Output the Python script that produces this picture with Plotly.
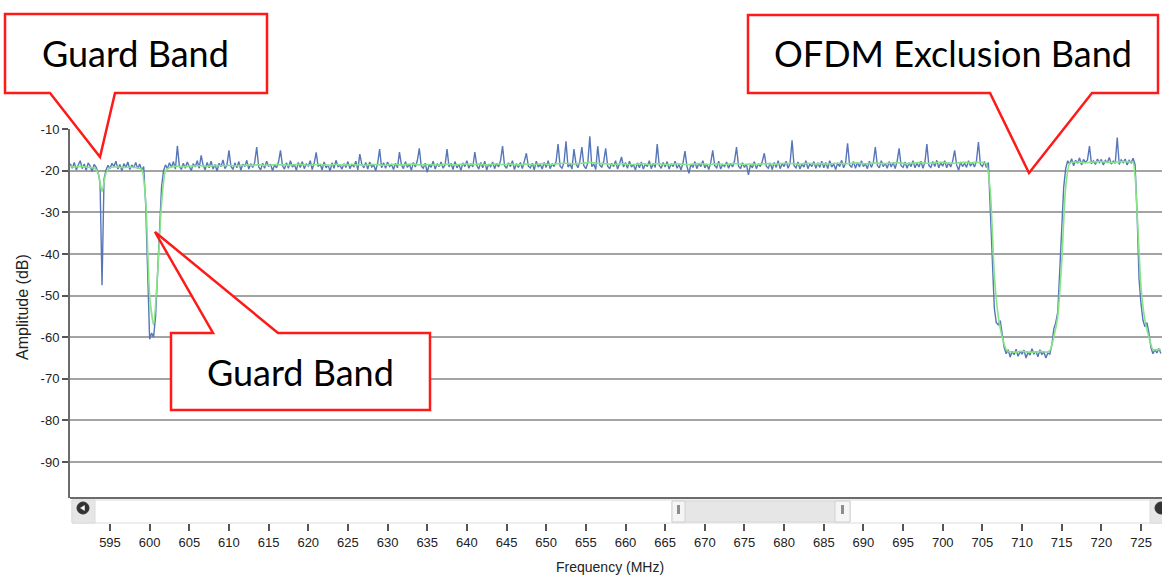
import plotly.graph_objects as go

W, H = 1162, 576

# ---------------- data ----------------
raw_start, raw_step = 590.0, 0.25
smooth_start, smooth_step = 590.0, 0.5

amplitude_raw = [
    -18.3, -19.4, -18.0, -19.8, -18.6, -17.6, -19.5, -18.4, -19.9, -18.1, -18.9, -20.2, -18.5, -19.1, -20.4, -23.0, -47.5, -22.0, -19.8, -18.7,  # 590
    -19.5, -18.2, -19.0, -17.7, -19.6, -18.5, -20.0, -18.3, -19.2, -17.9, -19.7, -18.6, -19.3, -18.0, -19.5, -18.4, -19.9, -19.0, -28.0, -48.0,  # 595
    -60.5, -59.0, -60.0, -55.0, -44.0, -33.0, -24.0, -20.0, -18.6, -19.5, -18.1, -19.2, -17.8, -19.6, -14.0, -18.9, -19.7, -18.2, -19.4, -17.9,  # 600
    -18.8, -20.0, -18.3, -19.1, -17.6, -19.4, -16.3, -18.7, -19.8, -18.0, -19.3, -17.7, -19.6, -18.5, -20.1, -18.2, -19.0, -17.4, -19.5, -18.6,  # 605
    -15.1, -18.9, -19.7, -18.1, -19.3, -17.8, -19.9, -18.4, -19.0, -17.5, -19.6, -18.3, -19.2, -18.0, -14.3, -19.1, -19.8, -18.2, -19.4, -17.7,  # 610
    -19.0, -18.4, -20.0, -18.6, -19.3, -17.9, -15.1, -18.8, -19.6, -18.1, -19.4, -17.6, -19.1, -18.5, -19.9, -18.0, -19.2, -17.8, -19.5, -18.4,  # 615
    -18.9, -17.6, -19.7, -18.2, -15.6, -19.0, -18.4, -19.8, -17.9, -19.3, -18.6, -20.1, -18.1, -19.4, -17.5, -19.0, -18.7, -19.6, -18.3, -19.2,  # 620
    -17.8, -19.5, -18.5, -19.0, -17.7, -19.8, -16.0, -18.4, -19.3, -18.0, -19.6, -17.9, -19.1, -18.6, -20.0, -18.2, -14.8, -19.3, -18.1, -19.4,  # 625
    -17.9, -19.0, -18.5, -19.7, -18.2, -19.3, -15.5, -18.6, -19.5, -17.8, -19.2, -18.4, -19.9, -18.0, -19.1, -17.6, -14.6, -18.9, -19.4, -18.2,  # 630
    -20.4, -18.5, -19.2, -17.7, -19.6, -18.3, -19.0, -17.9, -19.4, -18.6, -14.8, -19.1, -18.2, -19.7, -17.8, -19.3, -18.5, -19.9, -18.1, -19.0,  # 635
    -17.6, -19.4, -18.3, -19.1, -15.5, -18.7, -19.6, -18.0, -19.3, -17.7, -19.8, -18.4, -19.0, -17.9, -19.5, -18.2, -19.1, -17.5, -14.1, -18.8,  # 640
    -19.4, -18.1, -19.0, -17.6, -19.7, -18.3, -19.2, -18.0, -19.5, -17.8, -15.8, -18.9, -19.3, -18.2, -19.8, -17.7, -19.1, -18.5, -19.6, -18.0,  # 645
    -19.2, -17.6, -19.5, -18.3, -19.0, -17.8, -13.6, -18.9, -19.4, -18.0, -12.9, -19.1, -18.4, -19.6, -14.8, -18.2, -19.3, -17.7, -14.3, -18.8,  # 650
    -19.5, -18.1, -11.7, -19.0, -18.4, -19.7, -14.1, -18.6, -19.2, -17.8, -14.6, -18.9, -19.5, -18.2, -19.0, -17.6, -19.6, -18.3, -16.7, -19.1,  # 655
    -18.0, -19.4, -17.7, -19.1, -18.5, -19.8, -18.1, -19.3, -17.9, -19.6, -18.4, -19.0, -17.6, -19.5, -18.2, -19.2, -13.6, -18.7, -19.4, -18.0,  # 660
    -19.1, -17.8, -19.6, -18.3, -19.0, -17.7, -19.4, -18.5, -19.8, -18.1, -15.3, -19.0, -20.6, -18.4, -19.2, -17.8, -19.5, -18.2, -19.0, -17.6,  # 665
    -19.3, -18.4, -19.7, -18.0, -15.1, -18.8, -19.3, -17.7, -19.6, -18.5, -19.0, -17.9, -19.4, -18.2, -19.1, -17.6, -14.3, -18.9, -19.5, -18.1,  # 670
    -19.2, -18.4, -21.0, -18.6, -19.3, -17.8, -19.5, -18.3, -19.0, -17.7, -15.8, -18.9, -19.4, -18.1, -19.7, -18.0, -19.2, -17.6, -19.5, -18.3,  # 675
    -19.0, -17.7, -19.4, -18.2, -12.7, -18.8, -19.3, -17.9, -19.6, -18.4, -19.1, -17.6, -19.5, -18.3, -19.0, -17.8, -19.4, -18.1, -19.2, -17.7,  # 680
    -19.3, -18.0, -19.5, -17.6, -19.1, -18.4, -19.7, -18.1, -19.0, -17.5, -19.3, -18.2, -13.4, -18.6, -19.2, -17.8, -19.4, -18.0, -19.1, -17.6,  # 685
    -19.0, -18.3, -19.5, -17.7, -19.2, -18.0, -14.3, -18.7, -19.3, -17.6, -19.0, -18.2, -19.4, -17.8, -19.1, -18.0, -19.5, -17.7, -14.6, -18.8,  # 690
    -19.2, -17.9, -19.4, -18.1, -19.0, -17.6, -19.3, -18.2, -19.1, -17.7, -19.4, -18.0, -13.6, -18.7, -19.2, -17.8, -19.0, -17.5, -19.3, -18.1,  # 695
    -18.9, -17.6, -19.3, -18.0, -19.1, -17.7, -15.1, -18.6, -19.9, -17.9, -19.0, -18.2, -19.2, -17.6, -18.9, -18.0, -19.1, -17.7, -13.1, -18.5,  # 700
    -19.0, -17.8, -19.2, -18.0, -30.0, -45.0, -53.0, -56.5, -57.0, -56.0, -60.0, -62.5, -64.0, -63.0, -64.8, -63.4, -64.2, -62.9, -64.6, -63.5,  # 705
    -64.0, -63.1, -65.0, -63.6, -64.3, -62.8, -64.0, -63.4, -64.7, -63.0, -64.2, -63.5, -65.0, -63.8, -64.1, -62.0, -58.0, -56.5, -54.0, -45.0,  # 710
    -33.0, -24.0, -19.5, -17.6, -18.4, -17.1, -18.8, -17.5, -18.2, -16.9, -18.6, -17.3, -18.0, -17.4, -14.1, -18.3, -17.6, -18.5, -17.2, -18.0,  # 715
    -17.3, -18.6, -17.5, -18.1, -16.8, -18.4, -17.7, -18.2, -12.0, -18.5, -17.4, -18.0, -17.2, -18.6, -17.5, -18.1, -17.0, -18.5, -30.0, -46.0,  # 720
    -52.0, -56.0, -57.5, -56.5, -59.0, -62.5, -64.0, -63.0, -63.8, -62.7, -63.9,                                                                # 725
]

amplitude_smooth = [
    -19.0, -19.1, -19.0, -19.0, -19.1, -19.2, -19.3, -20.5, -25.0, -20.5,   # 590
    -19.3, -19.1, -19.1, -19.2, -19.2, -19.1, -19.2, -19.3, -19.6, -27.0,   # 595
    -50.0, -57.0, -45.0, -28.0, -20.0, -19.2, -19.0, -18.9, -19.0, -19.0,   # 600
    -18.9, -18.9, -18.8, -18.8, -18.9, -18.9, -18.8, -18.7, -18.8, -18.8,   # 605
    -18.7, -18.8, -18.8, -18.7, -18.7, -18.6, -18.7, -18.6, -18.6, -18.7,   # 610
    -18.7, -18.6, -18.5, -18.6, -18.6, -18.7, -18.6, -18.5, -18.5, -18.6,   # 615
    -18.7, -18.6, -18.5, -18.5, -18.6, -18.7, -18.6, -18.5, -18.6, -18.6,   # 620
    -18.6, -18.5, -18.6, -18.6, -18.7, -18.6, -18.5, -18.5, -18.6, -18.7,   # 625
    -18.6, -18.5, -18.5, -18.6, -18.6, -18.5, -18.4, -18.5, -18.6, -18.6,   # 630
    -18.5, -18.5, -18.6, -18.6, -18.5, -18.4, -18.5, -18.6, -18.5, -18.4,   # 635
    -18.4, -18.5, -18.5, -18.4, -18.5, -18.6, -18.5, -18.4, -18.4, -18.5,   # 640
    -18.5, -18.4, -18.5, -18.6, -18.5, -18.4, -18.5, -18.5, -18.4, -18.3,   # 645
    -18.4, -18.5, -18.4, -18.3, -18.2, -18.2, -18.3, -18.4, -18.3, -18.2,   # 650
    -18.1, -18.0, -18.1, -18.2, -18.3, -18.3, -18.4, -18.5, -18.4, -18.3,   # 655
    -18.4, -18.5, -18.5, -18.4, -18.3, -18.4, -18.5, -18.4, -18.3, -18.4,   # 660
    -18.5, -18.5, -18.4, -18.3, -18.4, -18.5, -18.5, -18.4, -18.3, -18.3,   # 665
    -18.4, -18.5, -18.4, -18.3, -18.4, -18.5, -18.4, -18.3, -18.3, -18.4,   # 670
    -18.5, -18.4, -18.4, -18.5, -18.4, -18.3, -18.3, -18.4, -18.4, -18.3,   # 675
    -18.2, -18.2, -18.3, -18.4, -18.4, -18.3, -18.2, -18.3, -18.4, -18.3,   # 680
    -18.3, -18.4, -18.3, -18.2, -18.2, -18.3, -18.3, -18.2, -18.1, -18.2,   # 685
    -18.3, -18.3, -18.2, -18.1, -18.2, -18.3, -18.2, -18.2, -18.1, -18.1,   # 690
    -18.2, -18.3, -18.2, -18.1, -18.0, -18.1, -18.2, -18.2, -18.1, -18.0,   # 695
    -18.0, -18.1, -18.2, -18.2, -18.1, -18.0, -18.0, -18.1, -18.0, -18.0,   # 700
    -18.0, -18.3, -25.0, -45.0, -55.0, -60.0, -63.0, -63.5, -63.6, -63.5,   # 705
    -63.4, -63.5, -63.6, -63.6, -63.5, -63.4, -63.6, -63.2, -60.0, -55.0,   # 710
    -42.0, -24.0, -18.2, -17.9, -17.9, -18.0, -18.1, -18.0, -17.9, -17.8,   # 715
    -17.8, -17.9, -18.0, -18.0, -17.9, -17.8, -17.8, -17.9, -18.0, -30.0,   # 720
    -48.0, -56.0, -60.0, -63.0, -63.0, -63.0,                               # 725
]

frequency_raw = [raw_start + i * raw_step for i in range(len(amplitude_raw))]
frequency_smooth = [smooth_start + i * smooth_step for i in range(len(amplitude_smooth))]

y_tick_values = [-10, -20, -30, -40, -50, -60, -70, -80, -90]
y_tick_labels = ["-10", "-20", "-30", "-40", "-50", "-60", "-70", "-80", "-90"]
x_tick_values = list(range(595, 730, 5))

callout_texts = ["Guard Band", "Guard Band", "OFDM Exclusion Band"]

# ---------------- helpers (pixel -> paper) ----------------
def px(x):
    return x / W

def py(y):
    return 1 - y / H

def path(points):
    return "M " + " L ".join(f"{px(x):.5f},{py(y):.5f}" for x, y in points) + " Z"

fig = go.Figure()
fig.add_trace(go.Scatter(x=frequency_raw, y=amplitude_raw, mode="lines",
                         line=dict(color="#5576b9", width=1.4),
                         hoverinfo="skip", showlegend=False))
fig.add_trace(go.Scatter(x=frequency_smooth, y=amplitude_smooth, mode="lines",
                         line=dict(color="#86e386", width=1.6, shape="spline", smoothing=0.6),
                         hoverinfo="skip", showlegend=False))

shapes = []
# bottom border of plot
shapes.append(dict(type="line", xref="paper", yref="paper",
                   x0=px(70), x1=px(1162), y0=py(498), y1=py(498),
                   line=dict(color="#6b6b6b", width=2)))
# scrollbar track
shapes.append(dict(type="rect", xref="paper", yref="paper",
                   x0=px(72), x1=px(1163), y0=py(523), y1=py(500),
                   fillcolor="#ffffff", line=dict(color="#dcdcdc", width=1)))
# left button
shapes.append(dict(type="rect", xref="paper", yref="paper",
                   x0=px(72), x1=px(95), y0=py(523), y1=py(500),
                   fillcolor="#e6e6e6", line=dict(color="#dcdcdc", width=1)))
shapes.append(dict(type="circle", xref="paper", yref="paper",
                   x0=px(77), x1=px(89), y0=py(514), y1=py(502),
                   fillcolor="#333333", line=dict(color="#333333", width=1)))
shapes.append(dict(type="path", xref="paper", yref="paper",
                   path=path([(80.5, 508), (84.5, 505.5), (84.5, 510.5)]),
                   fillcolor="#ffffff", line=dict(color="#ffffff", width=0.5)))
# right button (clipped by the window)
shapes.append(dict(type="rect", xref="paper", yref="paper",
                   x0=px(1150), x1=px(1163), y0=py(523), y1=py(500),
                   fillcolor="#e6e6e6", line=dict(color="#dcdcdc", width=1)))
shapes.append(dict(type="circle", xref="paper", yref="paper",
                   x0=px(1155), x1=px(1167), y0=py(514), y1=py(502),
                   fillcolor="#333333", line=dict(color="#333333", width=1)))
# thumb
shapes.append(dict(type="rect", xref="paper", yref="paper",
                   x0=px(672), x1=px(850), y0=py(522), y1=py(501),
                   fillcolor="#e6e6e6", line=dict(color="#d6d6d6", width=1)))
for hx0, hx1 in [(672, 685), (835, 850)]:
    shapes.append(dict(type="rect", xref="paper", yref="paper",
                       x0=px(hx0), x1=px(hx1), y0=py(522), y1=py(501),
                       fillcolor="#f5f5f5", line=dict(color="#d0d0d0", width=1)))
    cx = (hx0 + hx1) / 2
    shapes.append(dict(type="rect", xref="paper", yref="paper",
                       x0=px(cx - 1.5), x1=px(cx + 1.5), y0=py(514), y1=py(505),
                       fillcolor="#8c8c8c", line=dict(color="#8c8c8c", width=0)))

# callouts
callout_red = "#ff1a1a"
shapes.append(dict(type="path", xref="paper", yref="paper", layer="above",
                   path=path([(5, 14), (267, 14), (267, 93), (115, 93), (100, 157),
                              (50, 93), (5, 93)]),
                   fillcolor="#ffffff", line=dict(color=callout_red, width=2.5)))
shapes.append(dict(type="path", xref="paper", yref="paper", layer="above",
                   path=path([(171, 333), (213, 333), (155, 232), (278, 333),
                              (430, 333), (430, 410), (171, 410)]),
                   fillcolor="#ffffff", line=dict(color=callout_red, width=2.5)))
shapes.append(dict(type="path", xref="paper", yref="paper", layer="above",
                   path=path([(748, 15), (1158, 15), (1158, 93), (1092, 93),
                              (1029, 173), (990, 93), (748, 93)]),
                   fillcolor="#ffffff", line=dict(color=callout_red, width=2.5)))

annotations = []
for (cx, cy), txt in zip([(135, 53), (300, 372), (953, 53)], callout_texts):
    annotations.append(dict(x=px(cx), y=py(cy), xref="paper", yref="paper",
                            text=txt, showarrow=False, xanchor="center", yanchor="middle",
                            font=dict(family="Lato", size=36, color="#000000")))
# axis titles
annotations.append(dict(x=px(610), y=py(567), xref="paper", yref="paper",
                        text="Frequency (MHz)", showarrow=False,
                        xanchor="center", yanchor="middle",
                        font=dict(family="Liberation Sans", size=14, color="#222222")))
annotations.append(dict(x=px(22), y=py(307), xref="paper", yref="paper",
                        text="Amplitude (dB)", showarrow=False, textangle=-90,
                        xanchor="center", yanchor="middle",
                        font=dict(family="Liberation Sans", size=16, color="#222222")))

fig.update_layout(
    width=W, height=H,
    margin=dict(l=0, r=0, t=0, b=0, pad=0),
    paper_bgcolor="#ffffff", plot_bgcolor="#ffffff",
    showlegend=False,
    shapes=shapes,
    annotations=annotations,
    xaxis=dict(
        domain=[px(70), 1.0],
        range=[589.96, 727.645],
        anchor="free", position=py(523),
        tickmode="array", tickvals=x_tick_values,
        ticks="outside", ticklen=7, tickwidth=1.5, tickcolor="#555555",
        showgrid=False, zeroline=False, showline=False,
        tickfont=dict(family="Liberation Sans", size=13, color="#222222"),
        automargin=False, fixedrange=True,
    ),
    yaxis=dict(
        domain=[py(498), py(129) + 0.0005],
        range=[-98.65, -9.9],
        tickmode="array", tickvals=y_tick_values, ticktext=y_tick_labels,
        ticks="outside", ticklen=6, tickwidth=1.5, tickcolor="#555555",
        showgrid=True, gridcolor="#a3a3a3", gridwidth=1.5,
        zeroline=False, showline=True, linecolor="#6b6b6b", linewidth=2,
        tickfont=dict(family="Liberation Sans", size=13, color="#222222"),
        automargin=False, fixedrange=True,
    ),
)

fig.write_html("out.html")
